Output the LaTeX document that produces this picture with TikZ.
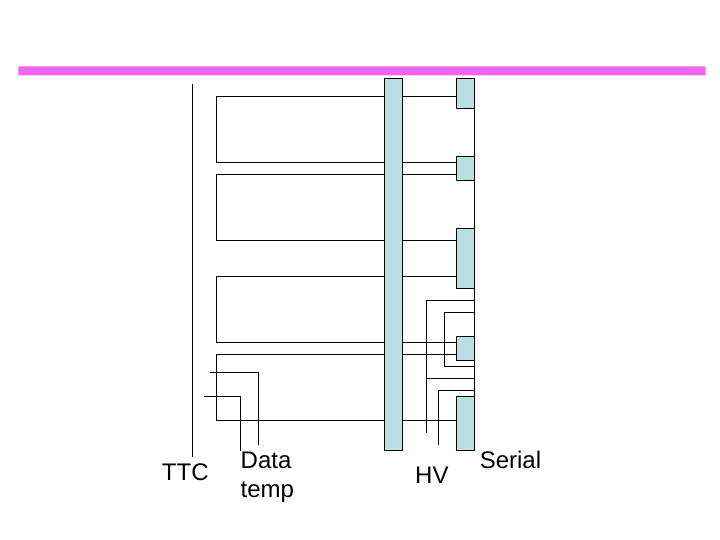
\documentclass[tikz,border=0pt]{standalone}
\usepackage{fontspec}
\setmainfont{Liberation Sans}
\usepackage{tkz-euclide}
\definecolor{barpink}{HTML}{F066F0}
\definecolor{boardblue}{HTML}{BBE0E3}
\tikzset{
  wire/.style={black, line width=1.1pt, line join=miter},
  board/.style={wire, fill=boardblue},
  tag/.style={font=\fontsize{24}{29}\selectfont, inner sep=0pt, align=left}
}
\begin{document}
\begin{tikzpicture}[x=6pt, y=6pt]
            \useasboundingbox (-0.083,0.083) rectangle (119.917,90.083);
            \tkzDefPoints{3/79/P_1, 117.5/79/P_2, 117.5/77.5/P_3, 3/77.5/P_4}
            \tkzDefPoints{32/76/T_1, 32/14/T_2}
            \tkzDefPoints{76/74/A_1, 36/74/A_2, 36/63/A_3, 76/63/A_4}
            \tkzDefPoints{76/61/B_1, 36/61/B_2, 36/50/B_3, 76/50/B_4}
            \tkzDefPoints{76/44/C_1, 36/44/C_2, 36/33/C_3, 76/33/C_4}
            \tkzDefPoints{76/31/D_1, 36/31/D_2, 36/20/D_3, 76/20/D_4}
            \tkzDefPoints{35/28/E_1, 43/28/E_2, 43/16/E_3, 34/24/F_1, 40/24/F_2, 40/15/F_3}
            \tkzDefPoints{79/40/H_1, 71/40/H_2, 71/18/H_3, 79/27/H_4, 71/27/H_5, 79/25/H_6, 73/25/H_7, 73/16/H_8}
            \tkzDefPoints{79/38/S_1, 74/38/S_2, 74/29/S_3, 79/29/S_4, 79/77/S_5, 79/15/S_6}
            \tkzDefPoints{64/77/M_1, 67/77/M_2, 67/15/M_3, 64/15/M_4}
            \tkzDefPoints{76/77/N_1, 76/72/N_2, 79/72/N_3}
            \tkzDefPoints{76/64/N_4, 79/64/N_5, 79/60/N_6, 76/60/N_7}
            \tkzDefPoints{76/52/N_8, 79/52/N_9, 79/42/N_10, 76/42/N_11}
            \tkzDefPoints{76/34/N_12, 79/34/N_13, 79/30/N_14, 76/30/N_15}
            \tkzDefPoints{76/24/N_16, 79/24/N_17, 76/15/N_18}
            % lines
            \tkzFillPolygon[barpink](P_1,P_2,P_3,P_4)
            \tkzDrawSegments[wire](T_1,T_2 S_5,S_6 H_4,H_5)
            \tkzDrawPolySeg[wire](A_1,A_2,A_3,A_4)
            \tkzDrawPolySeg[wire](B_1,B_2,B_3,B_4)
            \tkzDrawPolySeg[wire](C_1,C_2,C_3,C_4)
            \tkzDrawPolySeg[wire](D_1,D_2,D_3,D_4)
            \tkzDrawPolySeg[wire](E_1,E_2,E_3)
            \tkzDrawPolySeg[wire](F_1,F_2,F_3)
            \tkzDrawPolySeg[wire](H_1,H_2,H_3)
            \tkzDrawPolySeg[wire](H_6,H_7,H_8)
            \tkzDrawPolySeg[wire](S_1,S_2,S_3,S_4)
            % boards
            \tkzDrawPolygon[board](M_1,M_2,M_3,M_4)
            \tkzDrawPolygon[board](N_1,S_5,N_3,N_2)
            \tkzDrawPolygon[board](N_4,N_5,N_6,N_7)
            \tkzDrawPolygon[board](N_8,N_9,N_10,N_11)
            \tkzDrawPolygon[board](N_12,N_13,N_14,N_15)
            \tkzDrawPolygon[board](N_16,N_17,S_6,N_18)
            % labels
            \node[tag, anchor=center] (ttc) at (30.8,11.4) {TTC};
            \node[tag, anchor=north west] (data) at (40,14.83) {Data\\temp};
            \node[tag, anchor=center] (hv) at (71.9,10.8) {HV};
            \node[tag, anchor=center] (serial) at (85,13.4) {Serial};
        \end{tikzpicture}
\end{document}
